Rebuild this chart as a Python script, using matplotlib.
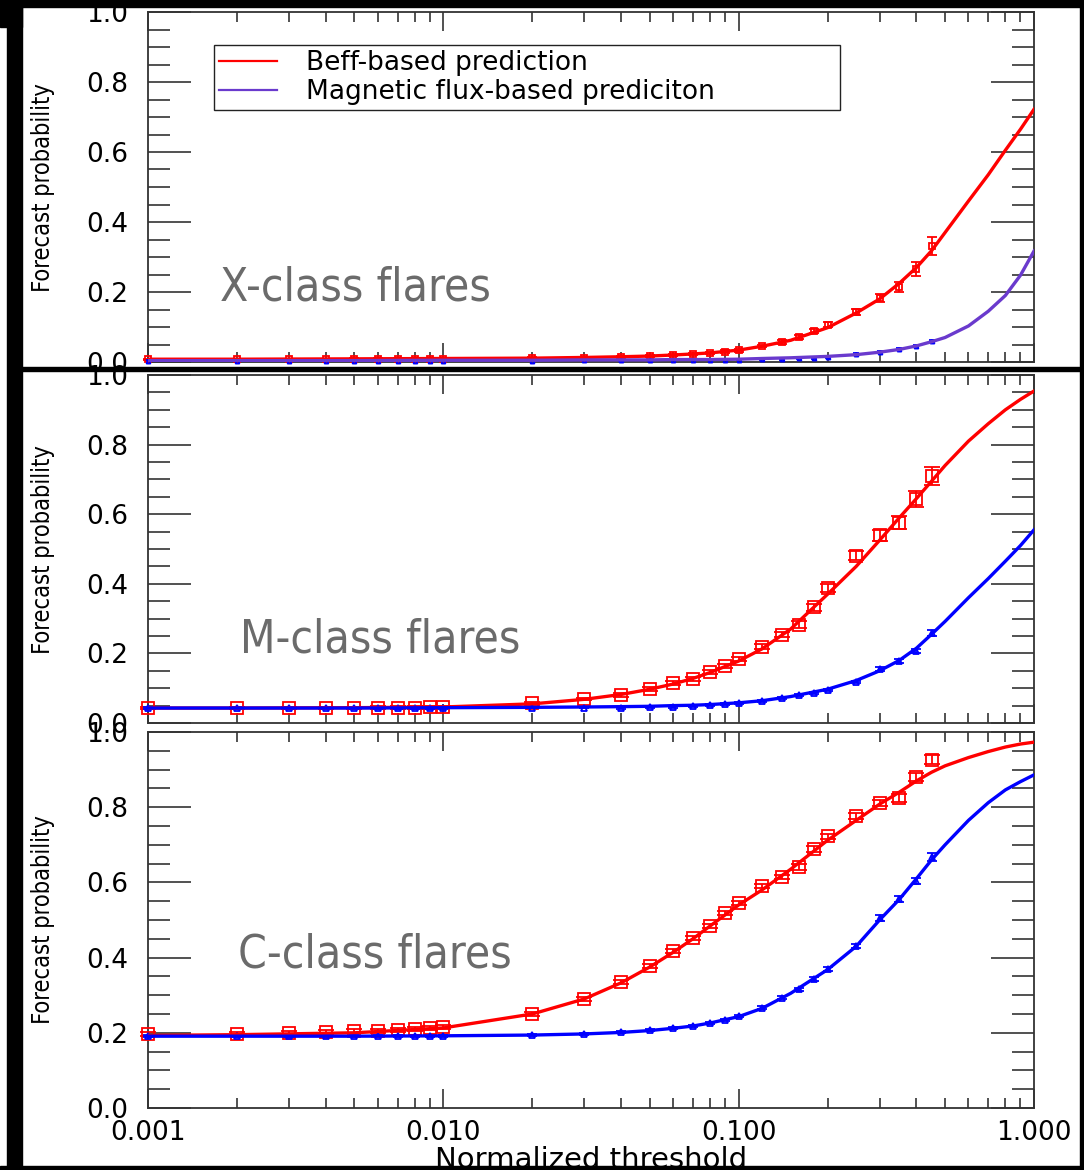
import matplotlib
matplotlib.use("Agg")
import matplotlib.pyplot as plt
from matplotlib import font_manager
from matplotlib.patches import Rectangle
from matplotlib.lines import Line2D
from matplotlib.ticker import MultipleLocator, LogLocator, FixedLocator, FixedFormatter, NullFormatter

# thresholds of the measured points
thresholds = [0.001, 0.002, 0.003, 0.004, 0.005, 0.006, 0.007, 0.008, 0.009, 0.01,
              0.02, 0.03, 0.04, 0.05, 0.06, 0.07, 0.08, 0.09, 0.1,
              0.12, 0.14, 0.16, 0.18, 0.2, 0.25, 0.3, 0.35, 0.4, 0.45]

x_beff = [0.008, 0.008, 0.008, 0.008, 0.009, 0.009, 0.009, 0.009, 0.009, 0.010,
          0.011, 0.012, 0.014, 0.017, 0.020, 0.023, 0.026, 0.030, 0.034,
          0.046, 0.057, 0.071, 0.089, 0.106, 0.143, 0.183, 0.214, 0.266, 0.331]
x_beff_err = [0.002] * 10 + [0.002, 0.002, 0.002, 0.003, 0.003, 0.003, 0.003, 0.003, 0.004,
              0.004, 0.005, 0.005, 0.006, 0.007, 0.009, 0.012, 0.015, 0.019, 0.025]
x_flux = [0.004] * 10 + [0.004, 0.005, 0.005, 0.005, 0.006, 0.006, 0.006, 0.007, 0.007,
          0.008, 0.009, 0.011, 0.012, 0.014, 0.023, 0.029, 0.037, 0.046, 0.060]
x_flux_err = [0.001] * 19 + [0.002, 0.002, 0.002, 0.002, 0.002, 0.003, 0.003, 0.003, 0.004, 0.004]

m_beff = [0.043, 0.043, 0.043, 0.043, 0.043, 0.044, 0.044, 0.044, 0.045, 0.046,
          0.057, 0.069, 0.081, 0.098, 0.115, 0.127, 0.147, 0.164, 0.184,
          0.219, 0.254, 0.283, 0.333, 0.388, 0.480, 0.540, 0.576, 0.644, 0.710]
m_beff_err = [0.004] * 10 + [0.004, 0.004, 0.005, 0.005, 0.005, 0.005, 0.006, 0.006, 0.006,
              0.007, 0.008, 0.009, 0.010, 0.011, 0.013, 0.016, 0.018, 0.023, 0.027]
m_flux = [0.043] * 10 + [0.044, 0.044, 0.043, 0.046, 0.046, 0.049, 0.052, 0.055, 0.057,
          0.063, 0.072, 0.080, 0.086, 0.095, 0.118, 0.155, 0.178, 0.207, 0.259]
m_flux_err = [0.002] * 19 + [0.003, 0.003, 0.003, 0.003, 0.004, 0.004, 0.005, 0.006, 0.007, 0.008]

c_beff = [0.197, 0.197, 0.200, 0.202, 0.205, 0.205, 0.207, 0.210, 0.213, 0.215,
          0.250, 0.290, 0.335, 0.378, 0.418, 0.452, 0.484, 0.519, 0.545,
          0.590, 0.614, 0.641, 0.689, 0.723, 0.777, 0.811, 0.824, 0.880, 0.926]
c_beff_err = [0.005] * 10 + [0.005] * 9 + [0.006, 0.006, 0.007, 0.007, 0.007, 0.008, 0.009, 0.010, 0.011, 0.012]
c_flux = [0.191] * 10 + [0.194, 0.197, 0.202, 0.207, 0.213, 0.218, 0.226, 0.234, 0.245,
          0.266, 0.293, 0.316, 0.343, 0.370, 0.431, 0.505, 0.556, 0.604, 0.668]
c_flux_err = [0.003] * 19 + [0.004, 0.004, 0.004, 0.005, 0.005, 0.006, 0.007, 0.008, 0.009, 0.010]

# fitted curves
curve_t = [0.001, 0.002, 0.005, 0.01, 0.02, 0.03, 0.04, 0.05, 0.06, 0.07, 0.08, 0.1, 0.12,
           0.15, 0.2, 0.25, 0.3, 0.35, 0.4, 0.45, 0.5, 0.6, 0.7, 0.8, 0.9, 1.0]
x_beff_fit = [0.008, 0.008, 0.009, 0.010, 0.011, 0.013, 0.015, 0.017, 0.020, 0.023, 0.026, 0.034, 0.045,
              0.062, 0.098, 0.140, 0.180, 0.225, 0.270, 0.318, 0.370, 0.460, 0.535, 0.605, 0.665, 0.722]
x_flux_fit = [0.004, 0.004, 0.004, 0.005, 0.005, 0.006, 0.006, 0.006, 0.007, 0.007, 0.007, 0.008, 0.010,
              0.012, 0.016, 0.021, 0.028, 0.036, 0.046, 0.058, 0.070, 0.103, 0.145, 0.190, 0.248, 0.317]
m_beff_fit = [0.043, 0.043, 0.044, 0.046, 0.055, 0.068, 0.082, 0.097, 0.112, 0.128, 0.145, 0.178, 0.213,
              0.270, 0.370, 0.450, 0.525, 0.590, 0.645, 0.695, 0.740, 0.810, 0.860, 0.900, 0.930, 0.954]
m_flux_fit = [0.043, 0.043, 0.043, 0.044, 0.045, 0.046, 0.047, 0.048, 0.050, 0.051, 0.053, 0.058, 0.064,
              0.076, 0.097, 0.122, 0.150, 0.180, 0.215, 0.255, 0.292, 0.360, 0.415, 0.465, 0.510, 0.555]
c_beff_fit = [0.193, 0.195, 0.200, 0.213, 0.250, 0.290, 0.333, 0.375, 0.414, 0.450, 0.484, 0.540, 0.580,
              0.635, 0.712, 0.765, 0.808, 0.840, 0.870, 0.893, 0.910, 0.932, 0.948, 0.960, 0.968, 0.973]
c_flux_fit = [0.191, 0.191, 0.191, 0.192, 0.194, 0.197, 0.201, 0.206, 0.212, 0.218, 0.226, 0.243, 0.265,
              0.305, 0.368, 0.430, 0.500, 0.555, 0.610, 0.660, 0.700, 0.765, 0.812, 0.846, 0.868, 0.886]

x_ticks = [0.001, 0.01, 0.1, 1.0]
x_ticklabels = ["0.001", "0.010", "0.100", "1.000"]
legend_labels = ["Beff-based prediction", "Magnetic flux-based prediciton"]

RED = "#ff0000"
BLUE = "#0000ff"
PURPLE = "#6a3acd"
GREY = "#6b6b6b"

names = {f.name for f in font_manager.fontManager.ttflist}
if "Liberation Sans Narrow" in names:
    narrow = dict(family="Liberation Sans Narrow")
    title_size, ylab_size = 37, 20
else:
    narrow = dict(family="DejaVu Sans", stretch="condensed")
    title_size, ylab_size = 33, 17

plt.rcParams["font.family"] = ["DejaVu Sans"]

W, H = 1084, 1170
fig = plt.figure(figsize=(W / 100, H / 100), dpi=100)


def box(x0, y0, x1, y1):
    # pixel box (from top-left) -> figure fractions
    return [x0 / W, 1 - y1 / H, (x1 - x0) / W, (y1 - y0) / H]


ax1 = fig.add_axes(box(148, 12, 1034, 362))
ax2 = fig.add_axes(box(148, 375, 1034, 723))
ax3 = fig.add_axes(box(148, 732, 1034, 1108))


def style(ax, show_x):
    ax.set_xscale("log")
    ax.set_xlim(0.001, 1.0)
    ax.set_ylim(0.0, 1.0)
    ax.xaxis.set_major_locator(FixedLocator(x_ticks))
    ax.xaxis.set_minor_locator(LogLocator(base=10, subs=range(2, 10)))
    ax.xaxis.set_minor_formatter(NullFormatter())
    if show_x:
        ax.xaxis.set_major_formatter(FixedFormatter(x_ticklabels))
    else:
        ax.xaxis.set_major_formatter(NullFormatter())
    ax.yaxis.set_major_locator(MultipleLocator(0.2))
    ax.yaxis.set_minor_locator(MultipleLocator(0.05))
    ax.yaxis.set_major_formatter(matplotlib.ticker.FormatStrFormatter("%.1f"))
    ax.tick_params(axis="both", which="both", direction="in", top=True, right=True,
                   color="#222222", width=1.1)
    ax.tick_params(axis="y", which="major", length=31, labelsize=19, pad=14)
    ax.tick_params(axis="y", which="minor", length=16)
    ax.tick_params(axis="x", which="major", length=14, labelsize=19, pad=9)
    ax.tick_params(axis="x", which="minor", length=7)
    for s in ax.spines.values():
        s.set_color("#333333")
        s.set_linewidth(1.3)
    ax.set_ylabel("Forecast probability", fontsize=ylab_size, **narrow)
    ax.yaxis.set_label_coords(-0.105, 0.5)


def points(ax, y, err, color, marker, ms):
    ax.errorbar(thresholds, y, yerr=err, fmt=marker, mfc="none", mec=color, ecolor=color,
                ms=ms, mew=1.3, elinewidth=1.3, capsize=ms * 0.7, capthick=1.3, clip_on=False, zorder=3)


# X-class
style(ax1, False)
points(ax1, x_beff, x_beff_err, RED, "s", 5)
points(ax1, x_flux, x_flux_err, BLUE, "^", 3)
ax1.plot(curve_t, x_beff_fit, color=RED, lw=2.4, zorder=4)
ax1.plot(curve_t, x_flux_fit, color=PURPLE, lw=2.4, zorder=4)
ax1.text(0.081, 0.177, "X-class flares", transform=ax1.transAxes, fontsize=title_size,
         color=GREY, ha="left", va="baseline", **narrow)
handles = [Line2D([], [], color=RED, lw=1.6), Line2D([], [], color=PURPLE, lw=1.6)]
ax1.legend(handles, legend_labels, loc="upper left", bbox_to_anchor=(0.0745, 0.734, 0.7065, 0.172),
           mode="expand", borderaxespad=0, fontsize=19, frameon=True, fancybox=False,
           edgecolor="#222222", framealpha=1, handlelength=2.2, handletextpad=1.1,
           labelspacing=0.1, borderpad=0.2)
ax1.get_legend().get_frame().set_linewidth(1.0)

# M-class
style(ax2, False)
points(ax2, m_beff, m_beff_err, RED, "s", 8.5)
points(ax2, m_flux, m_flux_err, BLUE, "^", 5)
ax2.plot(curve_t, m_beff_fit, color=RED, lw=2.4, zorder=4)
ax2.plot(curve_t, m_flux_fit, color=BLUE, lw=2.4, zorder=4)
ax2.text(0.104, 0.204, "M-class flares", transform=ax2.transAxes, fontsize=title_size,
         color=GREY, ha="left", va="baseline", **narrow)

# C-class
style(ax3, True)
points(ax3, c_beff, c_beff_err, RED, "s", 8.5)
points(ax3, c_flux, c_flux_err, BLUE, "^", 5)
ax3.plot(curve_t, c_beff_fit, color=RED, lw=2.4, zorder=4)
ax3.plot(curve_t, c_flux_fit, color=BLUE, lw=2.4, zorder=4)
ax3.text(0.102, 0.375, "C-class flares", transform=ax3.transAxes, fontsize=title_size,
         color=GREY, ha="left", va="baseline", **narrow)

fig.text(591 / W, 1 - 1160 / H, "Normalized threshold", fontsize=21, ha="center", va="center")

# black frame pieces around the picture
for x0, y0, x1, y1 in [(0, 0, 1084, 7), (0, 0, 22, 27), (7, 0, 22, 1170),
                       (1080, 0, 1084, 1170), (0, 1166, 1084, 1170), (22, 367, 1084, 371)]:
    fig.add_artist(Rectangle((x0 / W, 1 - y1 / H), (x1 - x0) / W, (y1 - y0) / H,
                             transform=fig.transFigure, color="black", zorder=10))

fig.savefig("out.png", dpi=100)
